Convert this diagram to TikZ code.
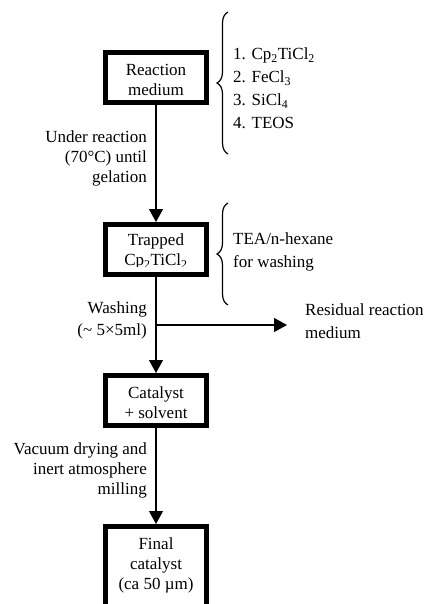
\documentclass[tikz,border=0pt]{standalone}
\usepackage{fontspec}
\setmainfont{Liberation Serif}
\usetikzlibrary{arrows.meta,decorations.pathreplacing}

\tikzset{
  stepbox/.style={draw, line width=5pt, minimum width=101pt, minimum height=50pt,
    inner sep=0pt, align=center, fill=white},
  flow/.style={line width=1.2pt, -{Triangle[width=14pt,length=13pt]}},
  lbl/.style={inner sep=0pt, align=right, anchor=east},
  note/.style={inner sep=0pt, align=left, anchor=west},
  curly/.style={line width=1.2pt, decorate, decoration={brace, amplitude=11pt}},
}

\begin{document}
\begin{tikzpicture}[x=1pt, y=-1pt, font=\fontsize{17}{20}\selectfont]
\useasboundingbox (0,0) rectangle (426,604);
\clip (0,0) rectangle (426,604);

% process boxes
\node[stepbox] (medium) at (156,77.5) {};
\node[inner sep=0pt, align=center] (mediumtxt) at (156,80) {Reaction\\medium};

\node[stepbox] (trapped) at (156,249.5) {};
\begin{scope}
  \clip (108,226) rectangle (204,266);
  \node[inner sep=0pt, align=center] (trappedtxt) at (156,251.5) {Trapped\\Cp\textsubscript{2}TiCl\textsubscript{2}};
\end{scope}

\node[stepbox] (slurry) at (156,400.5) {};
\node[inner sep=0pt, align=center] (slurrytxt) at (156,403) {Catalyst\\+ solvent};

\node[stepbox, minimum height=100pt] (final) at (156,576.5) {};
\node[inner sep=0pt, align=center] (finaltxt) at (156,565) {Final\\catalyst\\(ca 50 µm)};

% main flow
\draw[flow] (medium.south) -- (trapped.north);
\draw[flow] (trapped.south) -- (slurry.north);
\draw[flow] (slurry.south) -- (final.north);

% side stream of spent liquid
\coordinate (split) at (155.5,325);
\coordinate (waste) at (287,325);
\draw[flow] (split) -- (waste);

% step conditions
\node[lbl] (cond1) at (147,158) {Under reaction\\(70°C) until\\gelation};
\node[lbl, font=\fontsize{17}{22}\selectfont] (cond2) at (147,320.5) {Washing\\(\textasciitilde{} 5×5ml)};
\node[lbl] (cond3) at (147,470) {Vacuum drying and\\inert atmosphere\\milling};

% reagents and washing liquid
\draw[curly] (228,154) -- (228,12);
\node[note, font=\fontsize{17}{23}\selectfont] (reagents) at (233,88.5)
  {1. Cp\textsubscript{2}TiCl\textsubscript{2}\\2. FeCl\textsubscript{3}\\3. SiCl\textsubscript{4}\\4. TEOS};

\draw[curly] (228,305) -- (228,203);
\node[note, font=\fontsize{17}{23}\selectfont] (wash) at (233,251.5) {TEA/n-hexane\\for washing};

\node[note, font=\fontsize{17}{23}\selectfont] (residual) at (305,321.5) {Residual reaction\\medium};
\end{tikzpicture}
\end{document}
